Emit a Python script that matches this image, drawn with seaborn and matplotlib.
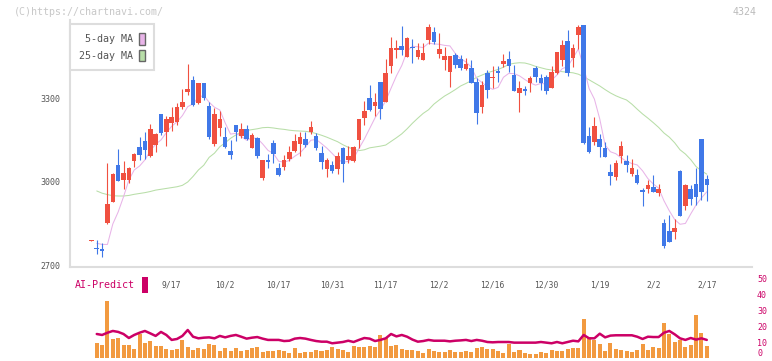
import numpy as np
import pandas as pd
import seaborn as sns
import matplotlib.pyplot as plt
from matplotlib.patches import Patch, Rectangle

# daily candles (yen)
opens = [2790, 2764, 2761, 2852, 2929, 3060, 3007, 3008, 3075, 3125,
         3147, 3092, 3132, 3242, 3179, 3211, 3214, 3269, 3322, 3364,
         3283, 3353, 3271, 3137, 3194, 3160, 3110, 3203, 3165, 3189,
         3122, 3157, 3015, 3078, 3139, 3050, 3054, 3083, 3112, 3137,
         3154, 3180, 3164, 3104, 3048, 3061, 3048, 3121, 3080, 3076,
         3151, 3230, 3300, 3271, 3357, 3287, 3416, 3473, 3486, 3448,
         3482, 3448, 3437, 3507, 3536, 3457, 3436, 3393, 3454, 3439,
         3404, 3407, 3357, 3269, 3389, 3371, 3396, 3421, 3439, 3382,
         3319, 3332, 3354, 3407, 3371, 3375, 3336, 3389, 3436, 3504,
         3443, 3525, 3561, 3164, 3143, 3154, 3121, 3036, 3018, 3093,
         3075, 3029, 3025, 2971, 2975, 2982, 2961, 2854, 2825, 2821,
         3039, 2914, 2975, 2993, 3154, 3011]
highs = [2793, 2793, 2783, 3067, 3033, 3118, 3075, 3055, 3102, 3159,
         3180, 3207, 3174, 3242, 3236, 3269, 3281, 3333, 3421, 3378,
         3353, 3353, 3287, 3265, 3253, 3196, 3150, 3203, 3211, 3203,
         3175, 3161, 3078, 3100, 3150, 3068, 3096, 3128, 3171, 3179,
         3179, 3218, 3175, 3129, 3086, 3075, 3107, 3125, 3129, 3129,
         3225, 3289, 3346, 3318, 3357, 3439, 3518, 3507, 3557, 3518,
         3511, 3496, 3496, 3564, 3555, 3532, 3482, 3450, 3461, 3454,
         3443, 3436, 3371, 3361, 3400, 3414, 3414, 3457, 3468, 3418,
         3361, 3343, 3379, 3414, 3386, 3382, 3414, 3464, 3507, 3543,
         3493, 3561, 3561, 3196, 3232, 3171, 3143, 3064, 3079, 3146,
         3096, 3082, 3046, 2979, 3007, 3025, 2993, 2868, 2882, 2868,
         3043, 2993, 2989, 3050, 3154, 3025]
lows = [2790, 2743, 2733, 2850, 2927, 3004, 2975, 2998, 3055, 3079,
        3081, 3090, 3108, 3167, 3130, 3183, 3203, 3262, 3311, 3271,
        3277, 3293, 3154, 3129, 3165, 3123, 3083, 3146, 3157, 3150,
        3122, 3087, 3008, 3051, 3069, 3022, 3044, 3076, 3108, 3094,
        3126, 3171, 3116, 3048, 3019, 3033, 3030, 3001, 3069, 3073,
        3123, 3205, 3254, 3236, 3225, 3287, 3391, 3444, 3454, 3448,
        3426, 3441, 3437, 3493, 3493, 3443, 3400, 3339, 3407, 3400,
        3400, 3355, 3208, 3248, 3301, 3337, 3357, 3411, 3393, 3325,
        3250, 3311, 3321, 3357, 3329, 3314, 3336, 3386, 3414, 3379,
        3411, 3475, 3136, 3104, 3132, 3089, 3089, 2989, 3007, 3068,
        3036, 3021, 2993, 2914, 2961, 2964, 2950, 2764, 2786, 2796,
        2879, 2900, 2918, 2918, 2936, 2932]
closes = [2792, 2759, 2752, 2921, 3028, 3004, 3032, 3051, 3101, 3096,
          3115, 3191, 3171, 3176, 3225, 3232, 3269, 3285, 3332, 3275,
          3353, 3301, 3162, 3243, 3225, 3126, 3097, 3179, 3189, 3152,
          3167, 3094, 3078, 3072, 3101, 3026, 3078, 3107, 3146, 3161,
          3133, 3196, 3123, 3073, 3079, 3041, 3093, 3066, 3093, 3125,
          3225, 3254, 3257, 3286, 3262, 3389, 3479, 3479, 3473, 3514,
          3479, 3471, 3461, 3554, 3500, 3475, 3450, 3450, 3418, 3407,
          3421, 3355, 3248, 3346, 3330, 3375, 3389, 3432, 3414, 3325,
          3336, 3325, 3371, 3375, 3354, 3325, 3393, 3464, 3489, 3389,
          3479, 3554, 3139, 3107, 3200, 3125, 3089, 3021, 3068, 3129,
          3061, 3050, 2996, 2965, 2989, 2964, 2975, 2771, 2786, 2836,
          2879, 2989, 2939, 2946, 2964, 2989]

# moving averages as drawn
ma5 = [None, 2781, 2777, 2777, 2850, 2893, 2947, 3007, 3043, 3057,
       3079, 3111, 3135, 3150, 3176, 3199, 3215, 3237, 3269, 3279,
       3303, 3309, 3285, 3267, 3257, 3211, 3171, 3174, 3163, 3149,
       3157, 3156, 3136, 3113, 3102, 3074, 3071, 3077, 3092, 3104,
       3125, 3149, 3152, 3137, 3121, 3102, 3082, 3070, 3074, 3084,
       3120, 3153, 3191, 3229, 3257, 3290, 3335, 3379, 3416, 3467,
       3485, 3483, 3480, 3496, 3493, 3492, 3488, 3486, 3459, 3440,
       3429, 3410, 3370, 3355, 3340, 3331, 3338, 3374, 3388, 3387,
       3379, 3366, 3354, 3346, 3352, 3350, 3364, 3382, 3405, 3412,
       3443, 3475, 3410, 3334, 3296, 3225, 3132, 3108, 3101, 3086,
       3074, 3066, 3061, 3040, 3012, 2993, 2978, 2933, 2897, 2866,
       2849, 2852, 2886, 2918, 2943, 2965]
ma25 = [None, 2968, 2960, 2955, 2951, 2950, 2950, 2952, 2956, 2959,
        2962, 2966, 2971, 2974, 2977, 2980, 2983, 2988, 3000, 3020,
        3043, 3060, 3088, 3103, 3126, 3140, 3156, 3168, 3178, 3184,
        3187, 3190, 3194, 3195, 3193, 3190, 3188, 3185, 3183, 3182,
        3181, 3178, 3173, 3167, 3160, 3152, 3144, 3133, 3124, 3117,
        3112, 3115, 3122, 3125, 3128, 3132, 3145, 3158, 3172, 3190,
        3210, 3228, 3245, 3258, 3278, 3293, 3307, 3318, 3330, 3343,
        3352, 3362, 3374, 3382, 3390, 3396, 3402, 3410, 3420, 3424,
        3426, 3425, 3420, 3413, 3408, 3403, 3400, 3397, 3394, 3392,
        3390, 3385, 3376, 3365, 3354, 3343, 3330, 3318, 3308, 3300,
        3293, 3278, 3260, 3243, 3228, 3212, 3195, 3175, 3160, 3140,
        3115, 3100, 3080, 3055, 3040, 3028]

# lower panel
volume = [None, 9.6, 8.1, 35.6, 11.9, 12.5, 8.1, 8.1, 5.6, 15.0,
          9.4, 10.6, 7.5, 7.5, 5.6, 5.0, 5.6, 11.3, 6.9, 5.0,
          6.3, 5.6, 8.8, 8.1, 4.4, 6.3, 4.4, 6.3, 4.4, 5.0,
          6.3, 6.9, 3.8, 4.4, 4.4, 5.0, 4.4, 3.1, 6.3, 3.1,
          3.8, 3.8, 5.0, 4.4, 5.0, 6.9, 5.6, 5.0, 3.8, 7.5,
          6.9, 6.9, 7.5, 6.9, 14.4, 12.5, 7.5, 8.1, 5.6, 5.0,
          4.7, 4.1, 3.1, 5.6, 4.4, 3.8, 3.8, 5.0, 3.8, 3.8,
          4.4, 3.8, 6.3, 6.9, 5.6, 5.6, 4.4, 3.1, 8.8, 3.8,
          5.0, 3.1, 2.5, 2.5, 3.8, 3.1, 5.0, 4.4, 4.4, 5.6,
          6.3, 6.3, 24.4, 13.1, 11.3, 8.8, 4.4, 9.4, 5.6, 5.0,
          4.4, 3.8, 5.0, 8.8, 5.0, 6.9, 6.3, 21.9, 15.0, 10.0,
          11.3, 6.9, 8.1, 26.9, 15.6, 7.5]
predict = [None, 15.0, 14.4, 15.8, 16.9, 16.3, 15.0, 12.5, 14.4, 15.8,
           16.9, 15.4, 13.8, 16.3, 14.4, 11.3, 11.9, 13.8, 17.5, 13.3,
           12.3, 12.7, 12.9, 12.3, 13.8, 12.9, 13.8, 14.4, 13.3, 12.1,
           12.7, 13.1, 12.1, 11.3, 11.3, 11.3, 10.6, 10.8, 12.1, 12.5,
           12.1, 11.3, 10.6, 10.2, 10.2, 9.2, 9.6, 10.0, 10.8, 10.0,
           11.3, 12.5, 12.1, 10.6, 11.3, 12.3, 15.0, 13.5, 14.4, 13.3,
           11.5, 10.2, 10.6, 11.3, 10.8, 10.8, 10.8, 10.4, 10.8, 11.0,
           11.3, 10.6, 11.3, 10.8, 10.0, 9.8, 10.0, 10.0, 10.0, 9.6,
           9.6, 9.6, 9.6, 9.6, 10.0, 9.6, 9.2, 10.0, 9.2, 10.0,
           10.8, 10.4, 14.4, 12.3, 12.3, 15.2, 12.9, 14.0, 14.2, 14.2,
           14.2, 14.2, 13.3, 11.9, 13.3, 13.1, 13.1, 15.8, 16.9, 14.8,
           12.3, 11.3, 12.5, 11.5, 12.3, 11.3]

date_labels = ["9/17", "10/2", "10/17", "10/31", "11/17", "12/2",
               "12/16", "12/30", "1/19", "2/2", "2/17"]
date_index = [15, 25, 35, 45, 55, 65, 75, 85, 95, 105, 115]
price_ticks = [2700, 3000, 3300]
predict_ticks = [0, 10, 20, 30, 40, 50]

sns.set_theme(style="white")
plt.rcParams["font.family"] = ["DejaVu Sans Mono"]

RED = "#f05040"
BLUE = "#4078e8"
PINK = "#e8b4e8"
GREEN = "#b8dea8"
ORANGE = "#f29a40"
CRIMSON = "#cc0066"
GRID = "#dddddd"

df = pd.DataFrame({"o": opens, "h": highs, "l": lows, "c": closes,
                   "ma5": np.array(ma5, dtype=float),
                   "ma25": np.array(ma25, dtype=float),
                   "vol": np.array(volume, dtype=float),
                   "pred": np.array(predict, dtype=float)})
df["i"] = np.arange(len(df))

W, H = 772, 361
fig = plt.figure(figsize=(W / 100, H / 100), dpi=100, facecolor="white")
ax = fig.add_axes([70 / W, 1 - 267 / H, 682 / W, 247 / H])
ax2 = fig.add_axes([70 / W, 1 - 358 / H, 682 / W, 90 / H])
xlim = (-4.0, 123.45)

# moving averages behind the candles
sub = df.dropna(subset=["ma25"])
sns.lineplot(data=sub, x="i", y="ma25", ax=ax, color=GREEN, lw=0.75, zorder=1)
sns.lineplot(data=sub, x="i", y="ma5", ax=ax, color=PINK, lw=0.75, zorder=1)

# candles
colors = np.where(df["c"] >= df["o"], RED, BLUE)
ax.vlines(df["i"], df["l"], df["h"], colors=colors, lw=0.8, zorder=2)
body = (df["c"] - df["o"]).abs().clip(lower=3.5)
ax.bar(df["i"], body, bottom=df[["o", "c"]].min(axis=1), width=0.85,
       color=colors, lw=0, zorder=3)

ax.set_xlim(*xlim)
ax.set_ylim(2696.4, 3578.6)
ax.set_xlabel("")
ax.set_ylabel("")
ax.set_xticks(np.linspace(xlim[0], xlim[1], 12))
ax.set_xticklabels([])
ax.set_yticks(price_ticks)
ax.set_yticklabels([str(t) for t in price_ticks])
ax.tick_params(axis="x", direction="out", length=4.3, width=1.2, color=GRID)
ax.tick_params(axis="y", direction="inout", length=5.5, width=1.2, color=GRID,
               labelsize=6, labelcolor="#555555", pad=4)
for s in ["top", "right"]:
    ax.spines[s].set_visible(False)
for s in ["left", "bottom"]:
    ax.spines[s].set_color(GRID)
    ax.spines[s].set_linewidth(1.5)

handles = [Patch(facecolor=PINK, edgecolor="#666666", lw=1),
           Patch(facecolor=GREEN, edgecolor="#666666", lw=1)]
leg = ax.legend(handles, ["5-day MA", "25-day MA"], loc="upper left",
                bbox_to_anchor=(0, 1 - 4 / 247), borderaxespad=0,
                markerfirst=False, fontsize=7.2, handlelength=0.6,
                handleheight=1.4, handletextpad=0.6, borderpad=0.9,
                labelspacing=0.5, fancybox=False, framealpha=1,
                edgecolor=GRID, facecolor="white")
leg.get_frame().set_linewidth(1.5)
for t in leg.get_texts():
    t.set_color("#555555")

# lower panel: bars and AI-Predict line
sns.barplot(data=df.dropna(subset=["vol"]), x="i", y="vol", ax=ax2,
            native_scale=True, color=ORANGE, saturation=1, width=0.75,
            errorbar=None, linewidth=0)
sns.lineplot(data=df.dropna(subset=["pred"]), x="i", y="pred", ax=ax2,
             color=CRIMSON, lw=1.8)
ax2.set_xlim(*xlim)
ax2.set_ylim(0, 56.25)
ax2.set_facecolor("none")
ax2.set_xlabel("")
ax2.set_ylabel("")
ax2.set_xticks([])
ax2.yaxis.tick_right()
ax2.set_yticks(predict_ticks)
ax2.set_yticklabels([str(t) for t in predict_ticks])
ax2.tick_params(axis="y", length=0, pad=3.6, labelsize=6, labelcolor=CRIMSON)
ax2.get_yticklabels()[0].set_va("bottom")
for s in ax2.spines.values():
    s.set_visible(False)

for pos, lab in zip(date_index, date_labels):
    ax2.text(pos, 45.6, lab, ha="center", va="center", fontsize=5.8,
             color="#555555")

fig.text(75 / W, 1 - 285 / H, "AI-Predict", ha="left", va="center",
         fontsize=7.2, color=CRIMSON)
fig.add_artist(Rectangle((142 / W, 1 - 293 / H), 6 / W, 16 / H,
                         transform=fig.transFigure, color=CRIMSON, lw=0))
fig.text(14 / W, 1 - 12 / H, "(C)https://chartnavi.com/", ha="left",
         va="center", fontsize=7.2, color="#c8c8c8")
fig.text(757 / W, 1 - 12 / H, "4324", ha="right", va="center",
         fontsize=7.2, color="#bbbbbb")

fig.savefig("out.png", dpi=100, facecolor="white")
